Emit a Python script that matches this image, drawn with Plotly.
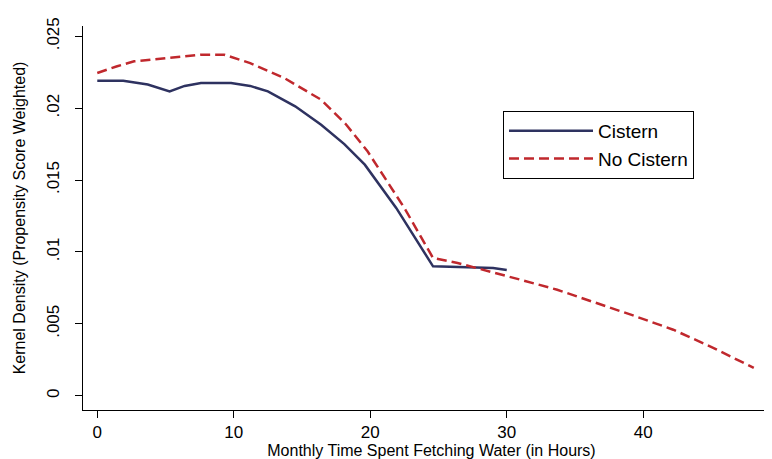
import plotly.graph_objects as go

# Monthly hours fetching water
cistern_x = [0, 1.9, 3.7, 5.3, 6.4, 7.6, 9.8, 11.2, 12.5, 14.5, 16.4, 18.1, 19.6, 21.9, 24.6, 27.0, 29.0, 30.0]
cistern_y = [0.02191, 0.0219, 0.02165, 0.02117, 0.02155, 0.02175, 0.02175, 0.02155, 0.02117, 0.02013, 0.01885, 0.0175, 0.01607, 0.01306, 0.00900, 0.00896, 0.00888, 0.00875]

nocist_x = [0, 1.4, 2.7, 5.2, 7.6, 9.3, 11.2, 13.7, 16.4, 18.2, 19.8, 22.5, 24.6, 26.4, 28.6, 31.0, 33.7, 36.2, 39.2, 42.2, 45.2, 48.1]
nocist_y = [0.02245, 0.0229, 0.02326, 0.02349, 0.02372, 0.02372, 0.02314, 0.0221, 0.02059, 0.0189, 0.0170, 0.01306, 0.00958, 0.00923, 0.00865, 0.00807, 0.00737, 0.00657, 0.00560, 0.00459, 0.00330, 0.00193]

y_ticks = [0, 0.005, 0.01, 0.015, 0.02, 0.025]
y_ticktext = ["0", ".005", ".01", ".015", ".02", ".025"]
x_ticks = [0, 10, 20, 30, 40, 50]

fig = go.Figure()
fig.add_trace(go.Scatter(x=cistern_x, y=cistern_y, mode="lines", name="Cistern",
                         line=dict(color="#2e3260", width=2.5)))
fig.add_trace(go.Scatter(x=nocist_x, y=nocist_y, mode="lines", name="No Cistern",
                         line=dict(color="#c0282d", width=2.5, dash="10px,5px")))

fig.update_layout(
    width=772, height=459,
    margin=dict(l=75, r=0, t=18, b=57),
    paper_bgcolor="white", plot_bgcolor="white",
    font=dict(family="Liberation Sans, Arial, sans-serif", color="black", size=14),
    showlegend=True,
    legend=dict(x=(495 - 75) / 697, y=(402 - 103) / 384, xanchor="left", yanchor="top",
                bordercolor="black", borderwidth=1, bgcolor="white",
                font=dict(size=19), tracegroupgap=0, itemwidth=84),
    xaxis=dict(range=[-1.046, 50.02], tickvals=x_ticks, showgrid=False, zeroline=False,
               showline=True, linecolor="black", linewidth=1, automargin=False,
               ticks="outside", ticklen=7, tickcolor="black",
               tickfont=dict(size=17), ticklabeloverflow="allow",
               title=dict(text="Monthly Time Spent Fetching Water (in Hours)",
                          font=dict(size=16), standoff=3)),
    yaxis=dict(range=[-0.000995, 0.025717], tickvals=y_ticks, ticktext=y_ticktext,
               tickangle=-90, showgrid=False, zeroline=False, automargin=False,
               showline=True, linecolor="black", linewidth=1,
               ticks="outside", ticklen=7, tickcolor="black",
               tickfont=dict(size=17), ticklabelstandoff=9,
               title=dict(text="Kernel Density (Propensity Score Weighted)",
                          font=dict(size=16), standoff=14)),
)

fig.write_html("out.html")
